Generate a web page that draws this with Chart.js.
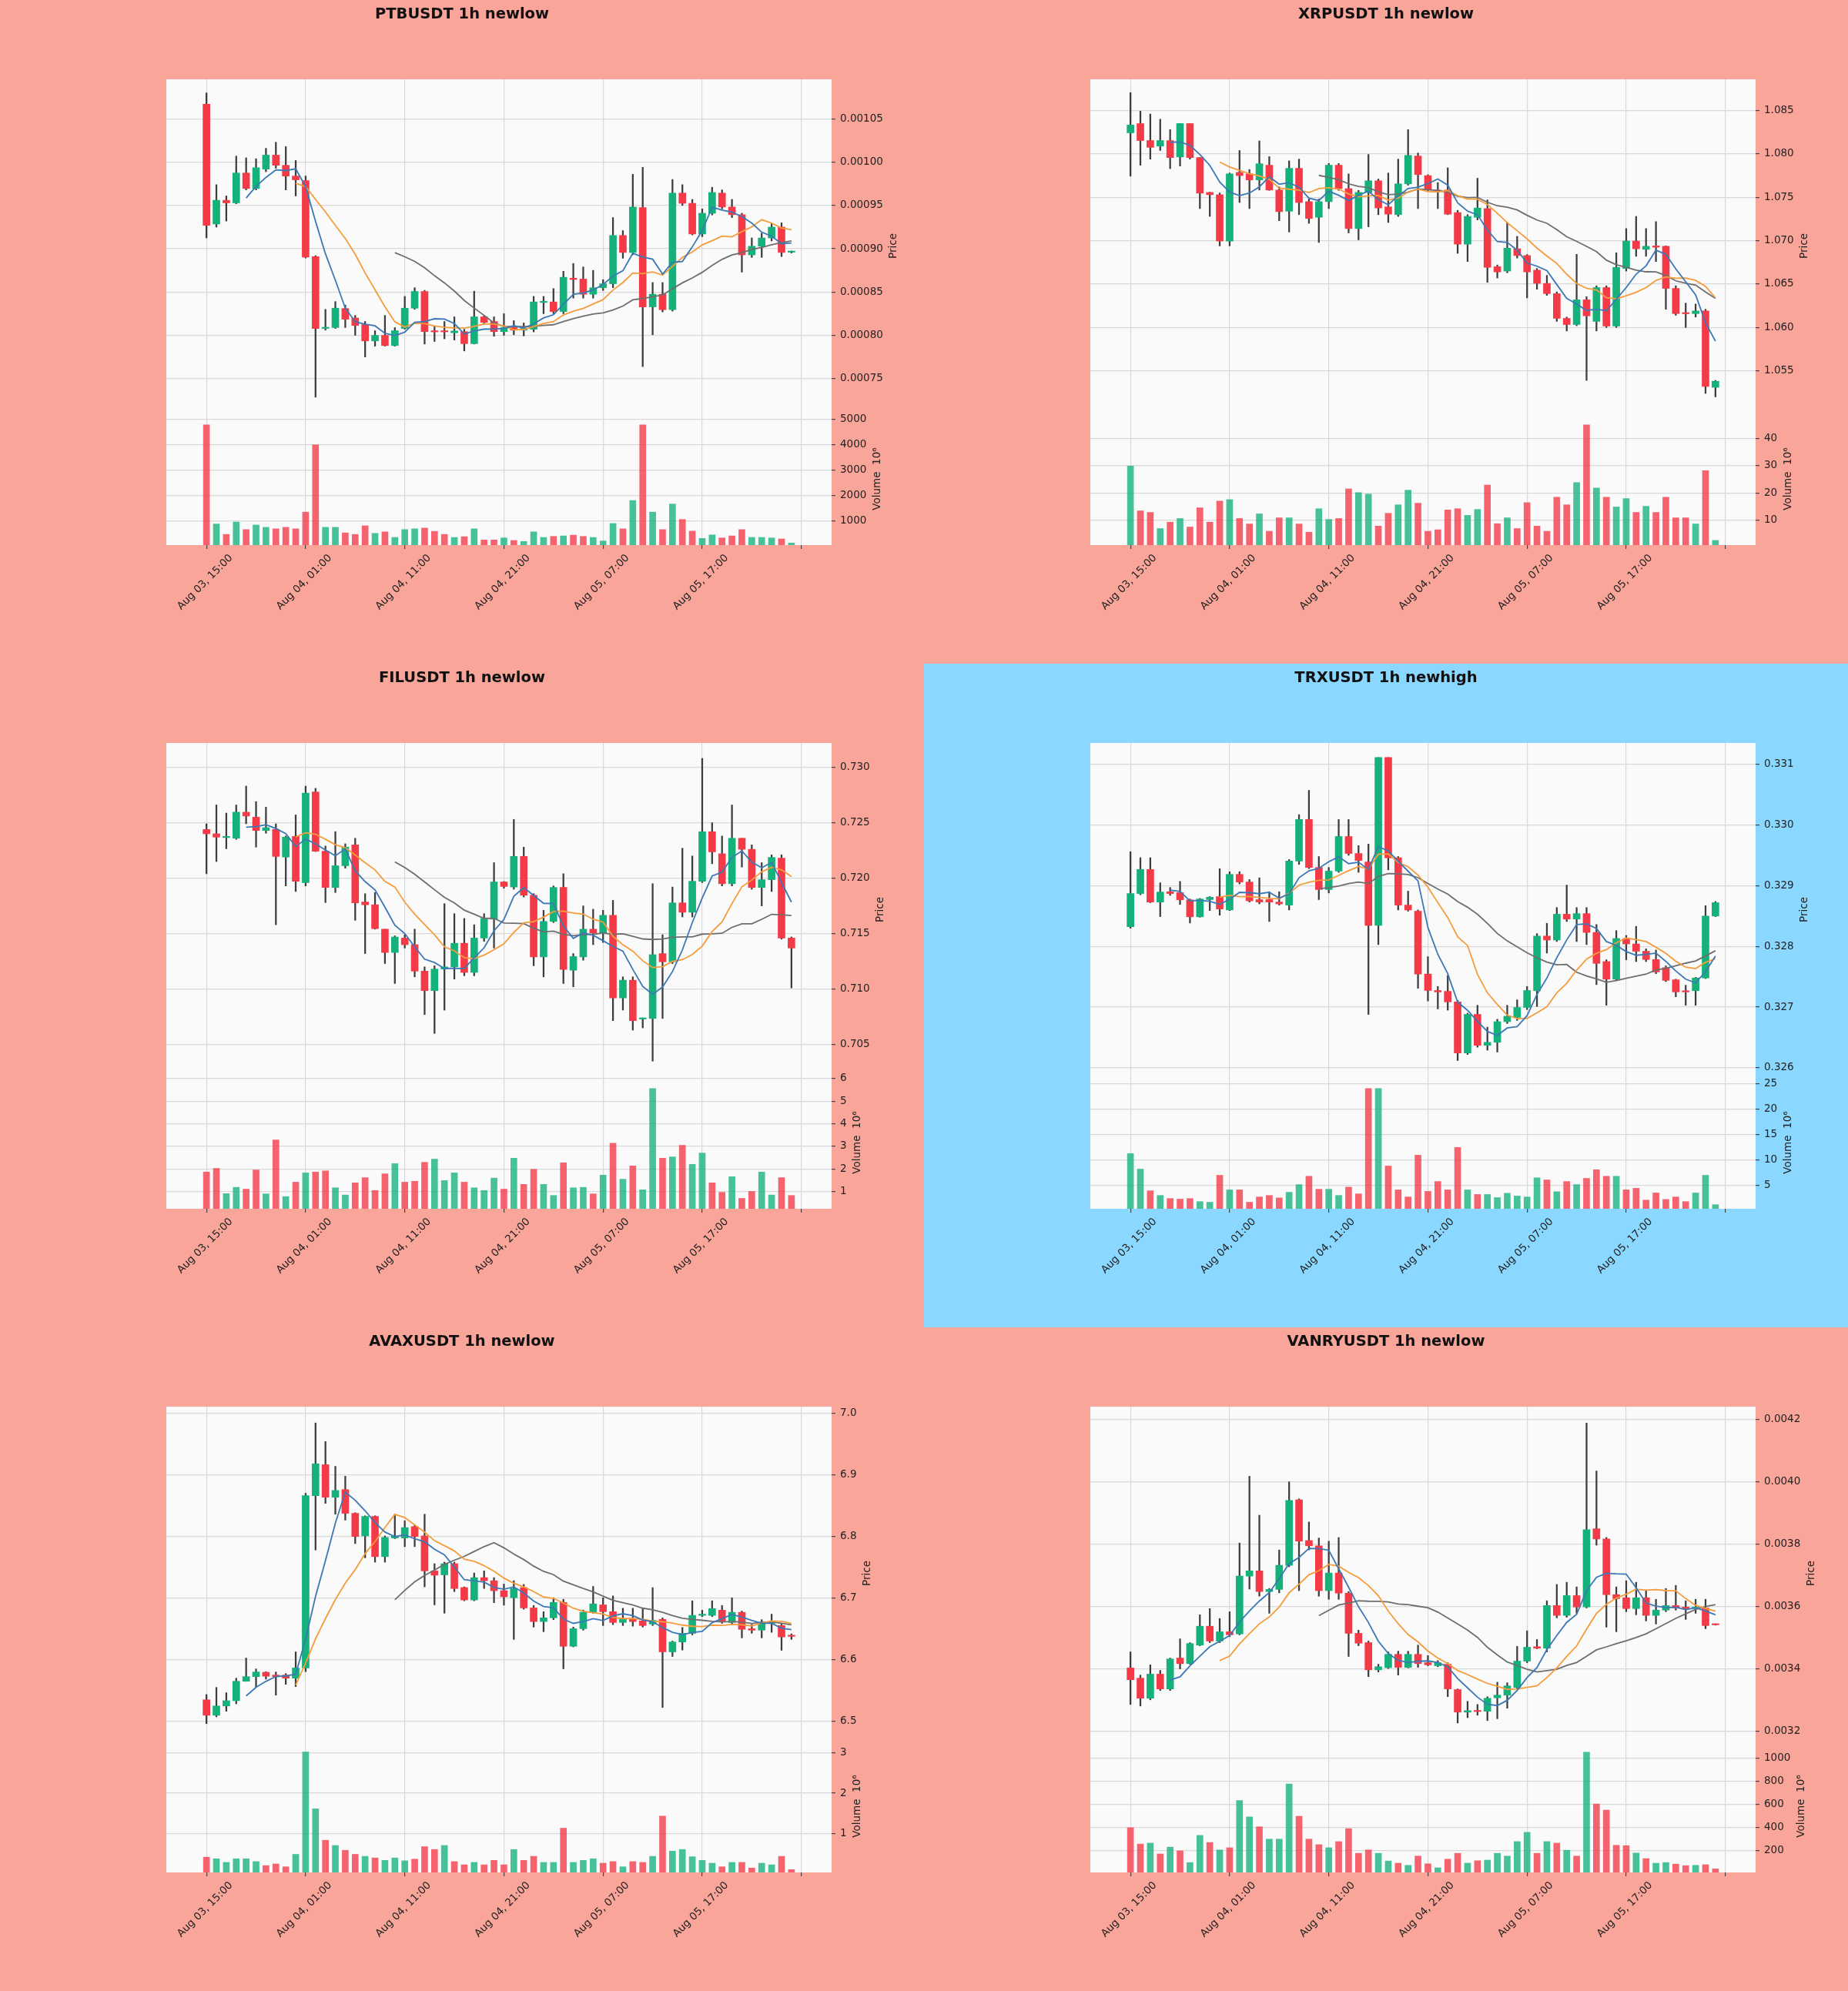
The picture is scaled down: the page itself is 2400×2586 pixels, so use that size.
<!DOCTYPE html>
<html>
<head>
<meta charset="utf-8">
<script src="https://cdn.jsdelivr.net/npm/chart.js@4.4.1/dist/chart.umd.min.js"></script>
<style>
html,body{margin:0;padding:0;background:#faa59a;}
#page{position:relative;width:2400px;height:2586px;overflow:hidden;}
.cell{position:absolute;width:1200px;height:862px;}
.cell canvas{position:absolute;left:0;}
</style>
</head>
<body>
<div id="page"></div>
<script>
// ---------------- shared axis labels ----------------
const xTickPositions = [0, 10, 20, 30, 40, 50, 60];
const xTickLabels = ['Aug 03, 15:00', 'Aug 04, 01:00', 'Aug 04, 11:00', 'Aug 04, 21:00', 'Aug 05, 07:00', 'Aug 05, 17:00', ''];

// ---------------- PTBUSDT ----------------
const ptbOpen = [0.001067,0.0009286,0.000956,0.000953,0.0009875,0.0009696,0.000992,0.0010082,0.0009964,0.000984,0.0009786,0.000891,0.000808,0.000809,0.000831,0.00082,0.0008125,0.0007936,0.0008,0.0007882,0.000808,0.0008314,0.0008507,0.0008045,0.0008045,0.000803,0.0008043,0.0007904,0.0008214,0.000816,0.0008043,0.000809,0.000806,0.000807,0.000838,0.0008386,0.0008275,0.000866,0.000865,0.0008475,0.000855,0.0008596,0.0009154,0.0008957,0.0009475,0.0008329,0.0008475,0.0008296,0.0009643,0.0009525,0.0009171,0.000941,0.0009643,0.0009482,0.0009393,0.0008929,0.0009029,0.0009125,0.000925,0.000896];
const ptbHigh = [0.00108,0.000974,0.000961,0.001007,0.001005,0.001004,0.001016,0.001023,0.001018,0.001002,0.000984,0.000892,0.00083,0.000839,0.000835,0.000823,0.000816,0.0008054,0.000823,0.000809,0.000845,0.000855,0.000852,0.0008107,0.000816,0.0008214,0.000807,0.000851,0.000823,0.0008214,0.000825,0.000817,0.0008143,0.000845,0.000845,0.000854,0.000874,0.000883,0.000879,0.000875,0.0008643,0.000936,0.000921,0.000986,0.000994,0.000861,0.000861,0.00098,0.000974,0.000957,0.000946,0.000971,0.000968,0.000957,0.000941,0.0009125,0.000918,0.000929,0.00093,0.0008975];
const ptbLow = [0.0009125,0.000925,0.000932,0.000952,0.000968,0.000968,0.000989,0.000993,0.000968,0.000961,0.0008893,0.0007286,0.000806,0.000808,0.000809,0.0008,0.000775,0.0007875,0.0007875,0.0007875,0.000807,0.00083,0.00079,0.0007929,0.000796,0.0007946,0.000782,0.00079,0.0008136,0.000799,0.0008,0.0008007,0.0007993,0.000804,0.000825,0.000825,0.000825,0.000843,0.000843,0.000843,0.0008518,0.000855,0.000889,0.000893,0.000764,0.0008007,0.000827,0.000828,0.00095,0.000916,0.000914,0.000939,0.000946,0.000936,0.000873,0.00089,0.00089,0.000909,0.000891,0.000895];
const ptbClose = [0.000927,0.000956,0.000953,0.0009875,0.0009696,0.0009936,0.0010082,0.0009964,0.0009839,0.0009796,0.0008904,0.0008079,0.000809,0.0008314,0.0008186,0.0008114,0.0007936,0.0008,0.0007882,0.0008054,0.0008314,0.0008507,0.0008043,0.000804,0.000804,0.000805,0.0007904,0.0008214,0.000815,0.0008043,0.000809,0.000806,0.000808,0.0008386,0.000839,0.0008275,0.0008671,0.0008645,0.0008475,0.000855,0.0008596,0.0009154,0.0008957,0.0009482,0.0008329,0.0008475,0.0008296,0.0009643,0.0009525,0.0009171,0.000941,0.000965,0.0009482,0.0009393,0.0008929,0.0009029,0.0009125,0.000925,0.0008957,0.000897];
const ptbVolume = [4790,870,460,950,650,830,740,680,740,680,1340,4000,740,740,520,460,800,500,560,340,650,680,710,580,460,340,370,680,240,240,320,220,180,560,340,380,400,430,380,340,200,890,680,1800,4790,1340,650,1660,1050,590,300,440,320,400,650,340,340,320,280,120];
const ptbPriceTicks = ['0.00075','0.00080','0.00085','0.00090','0.00095','0.00100','0.00105'];
const ptbVolTicks = ['1000','2000','3000','4000','5000'];

// ---------------- XRPUSDT ----------------
const xrpOpen = [1.08243,1.0835,1.08154,1.0809,1.08154,1.07965,1.0835,1.07958,1.07556,1.0753,1.06996,1.07787,1.0777,1.077,1.0787,1.07584,1.0734,1.07834,1.0745,1.0727,1.0745,1.0787,1.076,1.0714,1.07556,1.0769,1.0739,1.073,1.07655,1.07976,1.0775,1.0758,1.07584,1.07324,1.0696,1.0727,1.0737,1.067,1.0665,1.06907,1.06829,1.0666,1.06508,1.0639,1.06105,1.06034,1.06319,1.0607,1.0646,1.06016,1.0668,1.06996,1.069,1.0694,1.06936,1.0645,1.06162,1.0616,1.0619,1.0531];
const xrpHigh = [1.08707,1.08493,1.0846,1.084,1.0828,1.0835,1.0835,1.0796,1.0756,1.0755,1.0778,1.0804,1.0782,1.0815,1.07969,1.0762,1.0792,1.0794,1.0748,1.0748,1.0789,1.0789,1.0777,1.0758,1.07994,1.0771,1.0778,1.0794,1.0828,1.0801,1.0776,1.0767,1.0784,1.0735,1.073,1.0772,1.0747,1.0672,1.0721,1.0705,1.0684,1.0668,1.066,1.0641,1.0612,1.06843,1.06355,1.0648,1.0648,1.0686,1.0714,1.0728,1.0714,1.0722,1.0694,1.0648,1.0628,1.0627,1.0621,1.0539];
const xrpLow = [1.07744,1.0787,1.0794,1.0804,1.0783,1.0786,1.0794,1.0737,1.0728,1.0694,1.0694,1.0744,1.0737,1.07584,1.0758,1.0723,1.071,1.073,1.072,1.0698,1.0737,1.0758,1.0709,1.0701,1.0716,1.073,1.0721,1.0728,1.0764,1.0737,1.0757,1.0737,1.073,1.06854,1.0676,1.0724,1.0652,1.0657,1.0663,1.068,1.0634,1.0644,1.0637,1.0607,1.0596,1.0602,1.0539,1.0596,1.06,1.06,1.0665,1.0682,1.0682,1.0676,1.0621,1.0614,1.06,1.0612,1.0524,1.052];
const xrpClose = [1.08333,1.08154,1.08076,1.08154,1.07958,1.0835,1.07958,1.07548,1.0753,1.06996,1.0777,1.0775,1.077,1.07887,1.07584,1.07335,1.07834,1.0744,1.07256,1.0745,1.0787,1.076,1.0714,1.07556,1.0769,1.07377,1.07306,1.07655,1.07983,1.07762,1.07584,1.0757,1.07306,1.0696,1.0728,1.07377,1.06693,1.0664,1.06914,1.06829,1.0664,1.06508,1.0639,1.06105,1.06034,1.06319,1.06134,1.0646,1.06016,1.06693,1.06996,1.06907,1.06936,1.06925,1.0645,1.0616,1.06158,1.0619,1.0532,1.0538];
const xrpVolume = [29.9,13.37,12.8,6.85,9.2,10.56,7.4,14.5,9.2,16.97,17.5,10.56,8.54,12.25,5.84,10.8,10.8,8.54,5.5,14.16,10.2,10.56,21.46,20.1,19.55,7.75,12.47,15.6,21.0,16.2,5.84,6.4,13.7,14.16,11.7,13.9,22.9,8.65,10.8,6.85,16.4,7.75,5.84,18.4,15.6,23.8,45.06,21.8,18.4,14.8,17.9,12.8,15.05,12.8,18.4,10.8,10.8,8.54,28.2,2.47];
const xrpPriceTicks = ['1.055','1.060','1.065','1.070','1.075','1.080','1.085'];
const xrpVolTicks = ['10','20','30','40'];

// ---------------- FILUSDT ----------------
const filOpen = [0.72439,0.724,0.72366,0.7236,0.72595,0.7255,0.7243,0.7244,0.7219,0.72377,0.7196,0.72777,0.72243,0.71916,0.72112,0.723,0.71785,0.7176,0.7154,0.7133,0.7146,0.714,0.71162,0.70986,0.7118,0.712,0.71413,0.7115,0.7146,0.7163,0.71966,0.7192,0.72196,0.71846,0.7129,0.7161,0.71916,0.7117,0.7129,0.7154,0.71505,0.71665,0.7092,0.7108,0.7073,0.70735,0.7132,0.71246,0.71777,0.71693,0.71972,0.72419,0.7222,0.7195,0.7236,0.7226,0.71916,0.71986,0.7218,0.7146];
const filHigh = [0.7249,0.7266,0.72587,0.7266,0.7283,0.7269,0.7264,0.7249,0.7238,0.7257,0.7283,0.7281,0.7229,0.7242,0.7231,0.7236,0.7186,0.7187,0.7154,0.7148,0.7149,0.7154,0.712,0.7121,0.7177,0.7168,0.71637,0.7158,0.7168,0.7214,0.7197,0.7253,0.7228,0.7186,0.7171,0.7193,0.7204,0.7132,0.7175,0.7172,0.7171,0.718,0.7111,0.7111,0.7074,0.7195,0.7149,0.7192,0.7227,0.722,0.7308,0.725,0.7238,0.7266,0.7236,0.723,0.7214,0.7221,0.7221,0.7147];
const filLow = [0.7204,0.7215,0.72265,0.7235,0.7249,0.7228,0.72405,0.7158,0.7193,0.7188,0.7193,0.7224,0.7178,0.7187,0.7209,0.7162,0.7132,0.7154,0.7123,0.7105,0.7137,0.7111,0.7077,0.706,0.7081,0.7109,0.7112,0.7112,0.7143,0.7137,0.7191,0.719,0.7183,0.7121,0.7111,0.716,0.7105,0.7102,0.7126,0.714,0.7142,0.70715,0.7081,0.7063,0.7065,0.7035,0.70735,0.7123,0.7165,0.7165,0.7196,0.7213,0.7193,0.7193,0.721,0.719,0.7175,0.7188,0.7145,0.7101];
const filClose = [0.724,0.7237,0.72372,0.72595,0.7256,0.7243,0.72455,0.72196,0.7237,0.71972,0.72768,0.72243,0.71916,0.72112,0.7228,0.71777,0.7176,0.71545,0.7133,0.71469,0.714,0.71162,0.70986,0.7118,0.712,0.71413,0.7115,0.7146,0.71637,0.71966,0.71925,0.72196,0.71846,0.7129,0.7161,0.71916,0.71176,0.71293,0.7154,0.71505,0.71665,0.7092,0.7108,0.70715,0.7074,0.7131,0.71246,0.71777,0.71693,0.71972,0.72419,0.72237,0.7195,0.7236,0.7226,0.71916,0.71986,0.72187,0.7146,0.7137];
const filVolume = [1.86,2.02,0.9,1.18,1.1,1.95,0.89,3.28,0.77,1.41,1.82,1.86,1.91,1.16,0.84,1.38,1.61,1.04,1.78,2.23,1.41,1.45,2.29,2.43,1.48,1.82,1.41,1.16,1.04,1.59,1.1,2.47,1.31,1.98,1.31,0.82,2.27,1.16,1.18,0.89,1.72,3.14,1.54,2.13,1.07,5.56,2.47,2.53,3.04,2.2,2.7,1.38,0.96,1.65,0.69,1.0,1.86,0.84,1.61,0.82];
const filPriceTicks = ['0.705','0.710','0.715','0.720','0.725','0.730'];
const filVolTicks = ['1','2','3','4','5','6'];

// ---------------- TRXUSDT ----------------
const trxOpen = [0.328324,0.32887,0.329267,0.32873,0.3289,0.328885,0.328767,0.328487,0.32877,0.32882,0.3286,0.329186,0.32906,0.32877,0.32877,0.32873,0.32868,0.329405,0.33009,0.3293,0.328936,0.32924,0.32981,0.32953,0.32939,0.328345,0.33111,0.32946,0.32868,0.32858,0.327544,0.327274,0.32726,0.327086,0.326245,0.32688,0.32637,0.32642,0.32676,0.32683,0.326994,0.32727,0.32817,0.328105,0.32853,0.32845,0.32854,0.32823,0.32775,0.32746,0.32813,0.32804,0.32792,0.327784,0.32765,0.32745,0.32727,0.32727,0.32748,0.3285];
const trxHigh = [0.32956,0.32946,0.32946,0.329048,0.32897,0.32907,0.32878,0.32879,0.32882,0.32928,0.32923,0.32923,0.3291,0.32913,0.3289,0.3289,0.32943,0.33017,0.33057,0.32948,0.3293,0.33009,0.33009,0.32966,0.329685,0.33111,0.33111,0.32948,0.32891,0.3286,0.32783,0.32734,0.32752,0.32711,0.3269,0.32703,0.32667,0.3268,0.32703,0.32712,0.32734,0.32821,0.32838,0.32864,0.32901,0.32864,0.32864,0.32836,0.32778,0.32826,0.32818,0.32833,0.32796,0.32794,0.32768,0.32746,0.32736,0.32749,0.32867,0.32874];
const trxLow = [0.3283,0.32885,0.32872,0.32849,0.32884,0.32869,0.328385,0.32848,0.32859,0.328513,0.32859,0.32903,0.32873,0.3287,0.32841,0.32868,0.3286,0.32935,0.32928,0.32877,0.32888,0.32922,0.3295,0.32922,0.32688,0.32803,0.32926,0.3286,0.32858,0.32731,0.3271,0.32697,0.32695,0.32612,0.32622,0.32634,0.32629,0.32626,0.32673,0.32678,0.32696,0.32701,0.32789,0.32808,0.32841,0.32808,0.32803,0.32737,0.32703,0.32744,0.32778,0.32775,0.32775,0.32755,0.32742,0.32717,0.32703,0.32703,0.32747,0.32849];
const trxClose = [0.32887,0.329267,0.32873,0.328895,0.32887,0.328767,0.328487,0.32878,0.32881,0.328615,0.329186,0.32906,0.32875,0.32873,0.32873,0.3287,0.329405,0.33009,0.3293,0.328936,0.32924,0.32981,0.32953,0.329415,0.328345,0.33111,0.32946,0.32868,0.3286,0.327544,0.327274,0.32725,0.327086,0.326245,0.32688,0.32637,0.32642,0.32676,0.32685,0.326994,0.327274,0.32817,0.328105,0.32853,0.32845,0.32854,0.32823,0.32772,0.32746,0.32813,0.32804,0.32792,0.327784,0.32758,0.32744,0.32725,0.32725,0.32748,0.3285,0.32872];
const trxVolume = [11.24,8.18,3.9,2.98,2.37,2.25,2.37,1.76,1.64,6.96,4.08,4.08,1.64,2.68,2.98,2.49,3.6,5.12,6.77,4.2,4.2,2.98,4.63,3.29,24.08,24.08,8.79,4.08,2.68,10.93,3.78,5.73,4.08,12.46,4.08,3.17,3.17,2.55,3.41,2.86,2.68,6.47,6.04,3.72,5.73,5.12,6.35,8.06,6.77,6.77,4.08,4.39,2.06,3.47,2.19,2.68,1.76,3.47,6.96,1.15];
const trxPriceTicks = ['0.326','0.327','0.328','0.329','0.330','0.331'];
const trxVolTicks = ['5','10','15','20','25'];

// ---------------- AVAXUSDT ----------------
const avaxOpen = [6.5351,6.51,6.5251,6.5336,6.5652,6.5727,6.5797,6.5752,6.5752,6.5702,6.5868,6.8661,6.9163,6.8636,6.876,6.8375,6.8009,6.8325,6.7673,6.7975,6.7975,6.816,6.8009,6.7442,6.7377,6.7558,6.7172,6.6971,6.7332,6.7282,6.7121,6.7006,6.7172,6.6841,6.662,6.668,6.6931,6.6219,6.6504,6.677,6.689,6.678,6.6605,6.667,6.663,6.658,6.6655,6.6128,6.6289,6.6429,6.672,6.672,6.6805,6.6605,6.677,6.6504,6.648,6.659,6.6555,6.6385];
const avaxHigh = [6.5436,6.5552,6.5466,6.5702,6.6028,6.5852,6.5807,6.5802,6.5777,6.6128,6.87,6.984,6.9539,6.9137,6.8977,6.8385,6.8335,6.8335,6.8009,6.836,6.8255,6.8185,6.836,6.7558,6.7583,6.7583,6.7182,6.7407,6.7442,6.7332,6.7227,6.7282,6.7222,6.6881,6.678,6.7006,6.6981,6.653,6.6806,6.719,6.7006,6.7036,6.6836,6.6836,6.6836,6.717,6.668,6.6304,6.6525,6.6956,6.6805,6.6956,6.6881,6.7006,6.679,6.6575,6.665,6.674,6.658,6.642];
const avaxLow = [6.4965,6.5075,6.5165,6.5286,6.565,6.5552,6.5687,6.5426,6.5602,6.5566,6.5807,6.778,6.8536,6.836,6.8265,6.7884,6.7653,6.7583,6.7583,6.7964,6.7834,6.7834,6.7182,6.689,6.6755,6.7106,6.6956,6.6956,6.7156,6.6926,6.6886,6.633,6.6821,6.653,6.6455,6.665,6.5853,6.6209,6.6479,6.6755,6.6555,6.657,6.6555,6.6545,6.653,6.6555,6.5226,6.6053,6.6158,6.6404,6.67,6.67,6.659,6.657,6.6355,6.643,6.6355,6.6445,6.6153,6.633];
const avaxClose = [6.51,6.5251,6.5336,6.5652,6.5727,6.5802,6.5733,6.5727,6.5702,6.5868,6.8661,6.9178,6.8636,6.8746,6.8375,6.7999,6.8325,6.7673,6.7984,6.8005,6.8144,6.7999,6.7442,6.7372,6.7558,6.7156,6.6971,6.7332,6.7282,6.7121,6.7021,6.7156,6.6841,6.662,6.668,6.6931,6.6219,6.6504,6.677,6.6906,6.678,6.6605,6.667,6.662,6.6555,6.664,6.6128,6.6289,6.6429,6.672,6.674,6.683,6.662,6.677,6.6494,6.648,6.659,6.662,6.637,6.638];
const avaxVolume = [0.41,0.37,0.28,0.37,0.37,0.3,0.2,0.24,0.17,0.48,3.02,1.61,0.83,0.7,0.58,0.48,0.43,0.39,0.33,0.39,0.32,0.36,0.67,0.6,0.7,0.3,0.22,0.28,0.22,0.33,0.22,0.6,0.33,0.43,0.28,0.28,1.13,0.28,0.33,0.37,0.26,0.3,0.17,0.3,0.28,0.43,1.43,0.56,0.6,0.42,0.33,0.26,0.17,0.28,0.28,0.14,0.26,0.22,0.43,0.1];
const avaxPriceTicks = ['6.5','6.6','6.7','6.8','6.9','7.0'];
const avaxVolTicks = ['1','2','3'];

// ---------------- VANRYUSDT ----------------
const vanryOpen = [0.0034028,0.00337,0.0033056,0.003383,0.0033354,0.0034345,0.0034167,0.003476,0.0035366,0.003489,0.0035188,0.0035118,0.0036973,0.0037141,0.0036477,0.0036546,0.003732,0.003942,0.0038113,0.0037944,0.0036507,0.0037072,0.0036427,0.0035138,0.003484,0.0033968,0.0034037,0.0034464,0.0034047,0.0034464,0.0034196,0.0034097,0.0034147,0.0033334,0.003261,0.003265,0.0032639,0.003307,0.0033155,0.00334,0.0034246,0.003471,0.0034662,0.003603,0.0035713,0.0036348,0.0035981,0.003849,0.0038163,0.0036378,0.0036279,0.0035931,0.0036279,0.0035713,0.0035882,0.003603,0.003598,0.003593,0.0035951,0.003543];
const vanryHigh = [0.0034543,0.00338,0.0034127,0.003395,0.0034345,0.003496,0.003484,0.0035733,0.003593,0.0035614,0.003583,0.0038034,0.0040175,0.0038926,0.0036576,0.003781,0.0039997,0.003945,0.0038708,0.0038192,0.0038093,0.003821,0.0036477,0.0035238,0.003489,0.0034147,0.0034543,0.0034563,0.0034563,0.003476,0.0034424,0.0034266,0.0034196,0.0033354,0.0032957,0.0032857,0.0033106,0.003357,0.0033553,0.003472,0.0035218,0.003494,0.003618,0.0036705,0.0036774,0.0036626,0.004188,0.0040344,0.0038212,0.0036626,0.0036825,0.0036774,0.0036527,0.0036229,0.0036576,0.0036675,0.003618,0.003623,0.003623,0.003544];
const vanryLow = [0.0032858,0.0032808,0.0033006,0.0033304,0.0033304,0.0033998,0.0034147,0.003474,0.003484,0.003484,0.003503,0.0035089,0.0036556,0.003633,0.003578,0.0036437,0.0037271,0.0036507,0.0037815,0.0036328,0.0036229,0.0036229,0.0034395,0.003474,0.0033749,0.0033899,0.0034008,0.0033799,0.0034028,0.0034047,0.0034097,0.0034067,0.0033106,0.0032263,0.0032434,0.0032512,0.003234,0.00324,0.0032738,0.0033354,0.0034196,0.0034641,0.0034543,0.0035634,0.0035654,0.003578,0.0035951,0.0037964,0.0035336,0.0035188,0.003583,0.0035733,0.0035534,0.0035435,0.003583,0.0035882,0.0035584,0.003578,0.0035287,0.00354];
const vanryClose = [0.0033651,0.0033056,0.003383,0.0033354,0.0034315,0.0034167,0.0034811,0.0035366,0.003489,0.0035188,0.003509,0.0036973,0.0037141,0.0036477,0.0036546,0.003732,0.0039402,0.0038093,0.0037944,0.0036507,0.0037072,0.0036427,0.0035138,0.0034821,0.0033968,0.0034067,0.0034464,0.0034047,0.0034464,0.0034167,0.0034127,0.0034196,0.0033354,0.003261,0.0032659,0.003263,0.0033056,0.0033155,0.0033453,0.0034246,0.0034692,0.003466,0.003603,0.0035713,0.0036348,0.0035981,0.003846,0.0038163,0.0036378,0.0036249,0.0035931,0.0036279,0.0035713,0.0035882,0.003603,0.0035952,0.003593,0.003598,0.0035386,0.003541];
const vanryVolume = [400,258.7,266.7,173.3,232,200,98.7,333.3,272,208,226.7,634.7,493.3,408,301.3,301.3,778.7,498.7,301.3,253.3,226.7,280,392,178.7,208,178.7,112,93.3,74.7,154.7,88,53.3,128,178.7,93.3,114.7,120,178.7,154.7,280,360,178.7,280,266.7,205.3,154.7,1053,605.3,552,248,245,181,133,93,98.7,85,72,75,80,44];
const vanryPriceTicks = ['0.0032','0.0034','0.0036','0.0038','0.0040','0.0042'];
const vanryVolTicks = ['200','400','600','800','1000'];

// ---------------- styling / layout ----------------
const FONT = "'DejaVu Sans', sans-serif";
Chart.defaults.font.family = FONT;
Chart.defaults.font.size = 13.5;
Chart.defaults.color = '#222';
const UP = '#14b17b', DOWN = '#f43a46';
const VOL_UP = 'rgba(20,177,123,0.78)', VOL_DOWN = 'rgba(244,58,70,0.78)';
const WICK = '#3d3d3d';
const GRID = '#d9d9d9';
const MA_SPECS = [{n: 5, color: '#3b78b5'}, {n: 10, color: '#f59c3c'}, {n: 20, color: '#6e6e6e'}];
const X_MIN = -4.05, X_MAX = 63.05;

const panels = [
  {title: 'PTBUSDT 1h newlow', col: 0, row: 0, bg: '#faa59a', o: ptbOpen, h: ptbHigh, l: ptbLow, c: ptbClose, v: ptbVolume, pt: ptbPriceTicks, vt: ptbVolTicks, pr: [0.0007107, 0.0010957], vr: [36, 5270]},
  {title: 'XRPUSDT 1h newlow', col: 1, row: 0, bg: '#faa59a', o: xrpOpen, h: xrpHigh, l: xrpLow, c: xrpClose, v: xrpVolume, pt: xrpPriceTicks, vt: xrpVolTicks, pr: [1.05018, 1.0886], vr: [0.74, 49.57]},
  {title: 'FILUSDT 1h newlow', col: 0, row: 1, bg: '#faa59a', o: filOpen, h: filHigh, l: filLow, c: filClose, v: filVolume, pt: filPriceTicks, vt: filVolTicks, pr: [0.70213, 0.73219], vr: [0.23, 6.1]},
  {title: 'TRXUSDT 1h newhigh', col: 1, row: 1, bg: '#8ad8ff', o: trxOpen, h: trxHigh, l: trxLow, c: trxClose, v: trxVolume, pt: trxPriceTicks, vt: trxVolTicks, pr: [0.32586, 0.33135], vr: [0.345, 26.5]},
  {title: 'AVAXUSDT 1h newlow', col: 0, row: 2, bg: '#faa59a', o: avaxOpen, h: avaxHigh, l: avaxLow, c: avaxClose, v: avaxVolume, pt: avaxPriceTicks, vt: avaxVolTicks, pr: [6.4699, 7.0105], vr: [0.03, 3.32]},
  {title: 'VANRYUSDT 1h newlow', col: 1, row: 2, bg: '#faa59a', o: vanryOpen, h: vanryHigh, l: vanryLow, c: vanryClose, v: vanryVolume, pt: vanryPriceTicks, vt: vanryVolTicks, pr: [0.0031717, 0.0042407], vr: [13.3, 1158]}
];

function movingAverage(values, n) {
  return values.map((_, i) => {
    if (i < n - 1) return null;
    let s = 0;
    for (let k = i - n + 1; k <= i; k++) s += values[k];
    return s / n;
  });
}

const plotBg = {
  id: 'plotBg',
  beforeDraw(chart) {
    const a = chart.chartArea, ctx = chart.ctx;
    ctx.save();
    ctx.fillStyle = '#fafafa';
    ctx.fillRect(a.left, a.top, a.right - a.left, a.bottom - a.top);
    ctx.restore();
  }
};
const sideLabel = {
  id: 'sideLabel',
  afterDraw(chart, args, opts) {
    const s = chart.scales.y, ctx = chart.ctx;
    ctx.save();
    ctx.font = '13.5px ' + FONT;
    let w = 0;
    s.ticks.forEach(t => { w = Math.max(w, ctx.measureText(String(t.label)).width); });
    const x = s.left + 5 + 6 + w + 6 + 8;
    const y = (chart.chartArea.top + chart.chartArea.bottom) / 2;
    ctx.translate(x, y);
    ctx.rotate(-Math.PI / 2);
    ctx.textAlign = 'center';
    ctx.textBaseline = 'middle';
    ctx.fillStyle = '#222';
    ctx.fillText(opts.text, 0, 0);
    ctx.restore();
  }
};

function noPad(s) { s.paddingTop = 0; s.paddingBottom = 0; s.paddingLeft = 0; s.paddingRight = 0; }

function leftSpacer() {
  return {type: 'linear', position: 'left', display: true, grid: {display: false}, border: {display: false},
          ticks: {display: false}, afterFit: s => { s.width = 216; noPad(s); }};
}
function xScale(withLabels, height) {
  return {
    type: 'linear', min: X_MIN, max: X_MAX, offset: false,
    grid: {offset: false, color: GRID, lineWidth: 1.2, drawTicks: withLabels, tickLength: 5, tickColor: '#444'},
    border: {display: false},
    ticks: withLabels ? {autoSkip: false, minRotation: 45, maxRotation: 45, labelOffset: 32, padding: 4,
                         font: {size: 13.5}, color: '#222', callback: (v, i) => xTickLabels[i]} : {display: false},
    afterBuildTicks: s => { s.ticks = xTickPositions.map(v => ({value: v})); },
    afterFit: s => { s.height = height; noPad(s); }
  };
}
function yScale(range, labels) {
  return {
    type: 'linear', position: 'right', min: range[0], max: range[1],
    grid: {color: GRID, lineWidth: 1.2, tickLength: 5, tickColor: '#444'},
    border: {display: false},
    ticks: {font: {size: 13.5}, color: '#222', padding: 6, callback: (v, i) => labels[i]},
    afterBuildTicks: s => { s.ticks = labels.map(t => ({value: parseFloat(t)})); },
    afterFit: s => { s.width = 120; noPad(s); }
  };
}

const page = document.getElementById('page');
panels.forEach(p => {
  const cell = document.createElement('div');
  cell.className = 'cell';
  cell.style.left = (p.col * 1200) + 'px';
  cell.style.top = (p.row * 862) + 'px';
  cell.style.background = p.bg;
  page.appendChild(cell);

  const cv1 = document.createElement('canvas');
  cv1.width = 1200; cv1.height = 536; cv1.style.width = '1200px'; cv1.style.height = '536px'; cv1.style.top = '0px';
  cell.appendChild(cv1);
  const cv2 = document.createElement('canvas');
  cv2.width = 1200; cv2.height = 346; cv2.style.width = '1200px'; cv2.style.height = '346px'; cv2.style.top = '516px';
  cell.appendChild(cv2);

  const up = p.o.map((o, i) => p.c[i] >= o);
  const bodyColors = up.map(u => u ? UP : DOWN);
  const volColors = up.map(u => u ? VOL_UP : VOL_DOWN);

  const datasets = [
    {type: 'bar', label: 'wick', data: p.l.map((lo, i) => ({x: i, y: [lo, p.h[i]]})),
     backgroundColor: WICK, barThickness: 1.6, grouped: false, order: 3, borderWidth: 0},
    {type: 'bar', label: 'candle', data: p.o.map((o, i) => ({x: i, y: [o, p.c[i]]})),
     backgroundColor: bodyColors, barThickness: 9, minBarLength: 1.5, grouped: false, order: 2, borderWidth: 0}
  ];
  MA_SPECS.forEach(m => {
    datasets.push({type: 'line', label: 'MA' + m.n, data: movingAverage(p.c, m.n).map((val, i) => ({x: i, y: val})),
                   borderColor: m.color, borderWidth: 1.8, pointRadius: 0, fill: false, tension: 0, order: 1, spanGaps: false});
  });

  new Chart(cv1, {
    type: 'bar',
    data: {datasets},
    options: {
      responsive: false, animation: false, events: [],
      layout: {padding: 0},
      plugins: {
        legend: {display: false}, tooltip: {enabled: false},
        title: {display: true, text: p.title, color: '#111', font: {size: 19.5, weight: 'bold', family: FONT},
                padding: {top: 7, bottom: 72.6}},
        sideLabel: {text: 'Price'}
      },
      scales: {x: xScale(false, 0), y: yScale(p.pr, p.pt), yl: leftSpacer()}
    },
    plugins: [plotBg, sideLabel]
  });

  new Chart(cv2, {
    type: 'bar',
    data: {datasets: [
      {type: 'bar', label: 'Volume', data: p.v.map((val, i) => ({x: i, y: val})),
       backgroundColor: volColors, barThickness: 8, grouped: false, borderWidth: 0}
    ]},
    options: {
      responsive: false, animation: false, events: [],
      layout: {padding: {top: 20, left: 0, right: 0, bottom: 0}},
      plugins: {legend: {display: false}, tooltip: {enabled: false}, sideLabel: {text: 'Volume  10\u2076'}},
      scales: {x: xScale(true, 154), y: yScale(p.vr, p.vt), yl: leftSpacer()}
    },
    plugins: [plotBg, sideLabel]
  });
});
</script>
</body>
</html>
